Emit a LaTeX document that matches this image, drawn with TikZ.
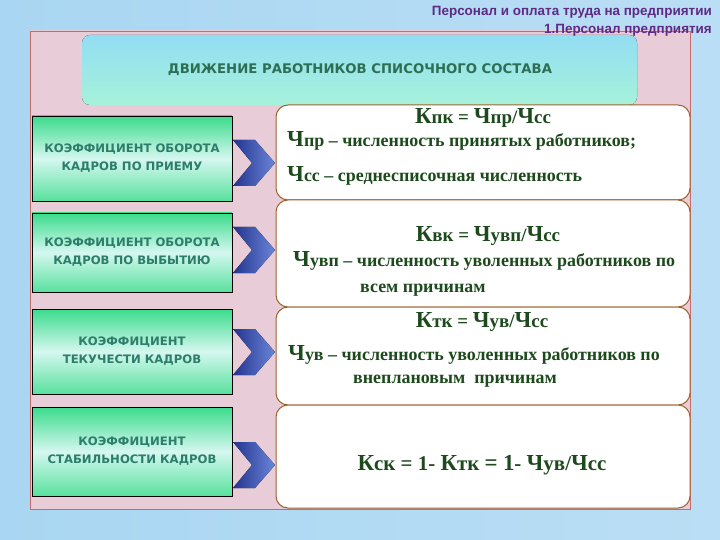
\documentclass[tikz,border=0pt]{standalone}
\usepackage{fontspec}
\setmainfont{Liberation Serif}
\newfontfamily\capsfont{DejaVu Sans}
\newfontfamily\headfont{Liberation Sans}
\definecolor{bgblue}{HTML}{A9D6F2}
\definecolor{framepink}{HTML}{E8CDD8}
\definecolor{framelav}{HTML}{EEEAF5}
\definecolor{framered}{HTML}{C86A6A}
\definecolor{boxgreen}{HTML}{3BDC8C}
\definecolor{boxpale}{HTML}{D5F7F0}
\definecolor{tealtext}{HTML}{2C7D6A}
\definecolor{titlegreen}{HTML}{2E6E55}
\definecolor{formgreen}{HTML}{1D4A1D}
\definecolor{brownline}{HTML}{A0622D}
\definecolor{chevdark}{HTML}{24338F}
\definecolor{chevlight}{HTML}{6A86D8}
\definecolor{headpurple}{HTML}{5E2A84}
\definecolor{bancyan}{HTML}{93DDF3}
\definecolor{banpink}{HTML}{F0BCDF}
\definecolor{banmint}{HTML}{A6F2DA}
\newcommand\BigLet[1]{{\fontsize{23}{23}\selectfont #1}}
\begin{document}
\begin{tikzpicture}[x=1bp, y=-1bp,
  leftbox/.style={draw=black, line width=0.8bp, top color=boxgreen, bottom color=boxgreen!85!white, middle color=boxpale, minimum width=200bp, inner sep=0pt, text=tealtext, align=center, font=\capsfont\bfseries\fontsize{11.7}{18}\selectfont},
  rightbox/.style={draw=brownline, line width=1bp, rounded corners=12bp, fill=white, minimum width=414bp, inner sep=0pt},
  formula/.style={text=formgreen, inner sep=0pt, anchor=base, font=\bfseries\fontsize{19}{22}\selectfont},
  bodyline/.style={text=formgreen, inner sep=0pt, anchor=base west, font=\bfseries\fontsize{18}{22}\selectfont},
  headline/.style={text=headpurple, inner sep=0pt, anchor=east, font=\headfont\bfseries\fontsize{13.5}{15}\selectfont}]
\useasboundingbox (0,0) rectangle (720,540);
% background and frame
\fill[left color=bgblue, middle color=white, right color=bgblue!80] (0,0) rectangle (720,540);
\fill[left color=framepink, middle color=framelav, right color=framepink] (30,31) rectangle (690,509);
\draw[framered, line width=0.8bp] (30,31) rectangle (690,509);
\fill[rounded corners=8bp, top color=bancyan, middle color=banpink, bottom color=banmint] (82,35) rectangle (637,105);
\node[text=titlegreen, font=\capsfont\bfseries\fontsize{13.3}{16}\selectfont] (title) at (360,70) {ДВИЖЕНИЕ РАБОТНИКОВ СПИСОЧНОГО СОСТАВА};
\node[headline] (head1) at (712,12) {Персонал и оплата труда на предприятии};
\node[headline] (head2) at (712,30) {1.Персонал предприятия};

% left boxes
\node[leftbox, minimum height=85bp] (kpriem) at (132,158.5) {КОЭФФИЦИЕНТ ОБОРОТА\\КАДРОВ ПО ПРИЕМУ};
\node[leftbox, minimum height=79bp] (kvyb) at (132,252.5) {КОЭФФИЦИЕНТ ОБОРОТА\\КАДРОВ ПО ВЫБЫТИЮ};
\node[leftbox, minimum height=85bp] (ktek) at (132,351.5) {КОЭФФИЦИЕНТ\\ТЕКУЧЕСТИ КАДРОВ};
\node[leftbox, minimum height=89bp] (kstab) at (132,451.5) {КОЭФФИЦИЕНТ\\СТАБИЛЬНОСТИ КАДРОВ};

% chevrons
\foreach \c in {163,250,352,465}
  \fill[left color=chevdark, right color=chevlight] (233,\c-23) -- (255,\c-23) -- (275,\c) -- (255,\c+23) -- (233,\c+23) -- (252,\c) -- cycle;

% right boxes
\node[rightbox, minimum height=95bp] (fpriem) at (483,152.5) {};
\node[rightbox, minimum height=107bp] (fvyb) at (483,253.5) {};
\node[rightbox, minimum height=98bp] (ftek) at (483,356) {};
\node[rightbox, minimum height=103bp] (fstab) at (483,456.5) {};

\node[formula] (f1) at (483,124) {\BigLet{К}пк = \BigLet{Ч}пр/\BigLet{Ч}сс};
\node[bodyline] (f1a) at (287,147) {\BigLet{Ч}пр – численность принятых работников;};
\node[bodyline] (f1b) at (287,182) {\BigLet{Ч}сс – среднесписочная численность};

\node[formula] (f2) at (488,242) {\BigLet{К}вк = \BigLet{Ч}увп/\BigLet{Ч}сс};
\node[bodyline] (f2a) at (293,267) {\BigLet{Ч}увп – численность уволенных работников по};
\node[bodyline] (f2b) at (360,292) {всем причинам};

\node[formula] (f3) at (482,327) {\BigLet{К}тк = \BigLet{Ч}ув/\BigLet{Ч}сс};
\node[bodyline] (f3a) at (288,360) {\BigLet{Ч}ув – численность уволенных работников по};
\node[bodyline] (f3b) at (353,383) {внеплановым\ \ причинам};

\node[formula, font=\bfseries\fontsize{21}{24}\selectfont] (f4) at (482,470) {\BigLet{К}ск = 1- \BigLet{К}тк \BigLet{=} \BigLet{1}- \BigLet{Ч}ув/\BigLet{Ч}сс};
\end{tikzpicture}
\end{document}
